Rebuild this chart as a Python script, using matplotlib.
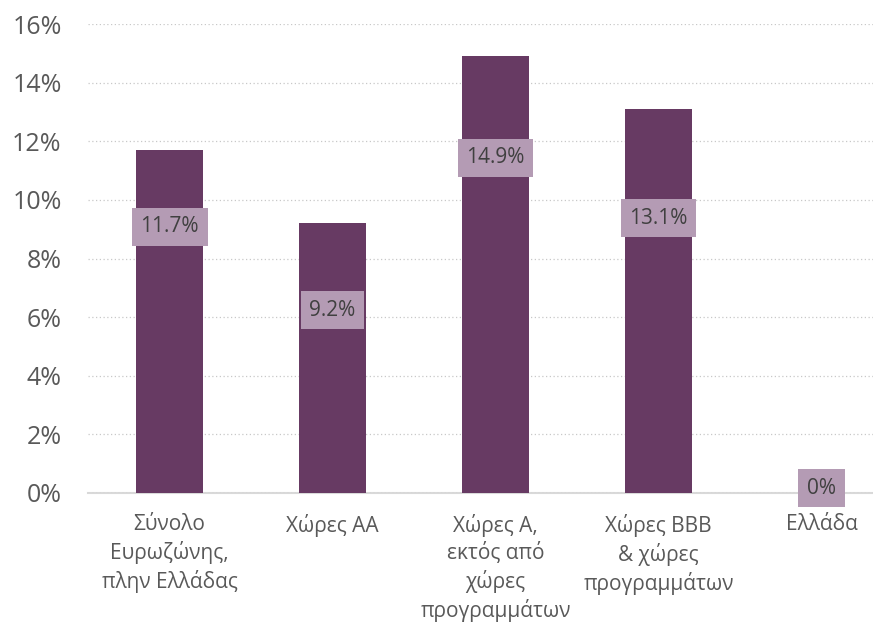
import matplotlib.pyplot as plt
from matplotlib.ticker import PercentFormatter

plt.rcParams['font.family'] = ['Open Sans', 'DejaVu Sans']

# data
categories = ["Σύνολο\nΕυρωζώνης,\nπλην Ελλάδας", "Χώρες ΑΑ",
              "Χώρες Α,\nεκτός από\nχώρες\nπρογραμμάτων",
              "Χώρες ΒΒΒ\n& χώρες\nπρογραμμάτων", "Ελλάδα"]
values = [11.7, 9.2, 14.9, 13.1, 0.0]
value_labels = ["11.7%", "9.2%", "14.9%", "13.1%", "0%"]

# where the value boxes sit (y, in %), as in the original
label_y = [9.08, 6.24, 11.43, 9.38, 0.17]

bar_color = '#673a63'
box_color = '#b49bb4'
text_color = '#595959'

fig = plt.figure(figsize=(8.73, 6.25), dpi=100)
ax = fig.add_axes([88 / 873, 1 - 493 / 625, 815 / 873, 469 / 625])

x = range(len(categories))
ax.bar(x, values, width=0.405, color=bar_color, zorder=2)

for xi, yi, lab in zip(x, label_y, value_labels):
    ax.text(xi, yi, lab, ha='center', va='center', fontsize=15, color='#404040',
            zorder=3, bbox=dict(boxstyle='square,pad=0.42', fc=box_color, ec='none'))

ax.set_xlim(-0.5, len(categories) - 0.5)
ax.set_ylim(0, 16)
ax.set_yticks(range(0, 17, 2))
ax.yaxis.set_major_formatter(PercentFormatter(decimals=0))
ax.set_xticks(list(x))
ax.set_xticklabels(categories, fontsize=15, color=text_color, linespacing=1.33)
ax.tick_params(axis='y', length=0, pad=19, labelsize=18, labelcolor=text_color)
ax.tick_params(axis='x', length=0, pad=15)

ax.grid(axis='y', linestyle=(0, (1, 2)), color='#c8c8c8', linewidth=0.9, zorder=0)
for s in ['top', 'right', 'left']:
    ax.spines[s].set_visible(False)
ax.spines['bottom'].set_color('#d9d9d9')
ax.spines['bottom'].set_linewidth(1.5)
ax.spines['bottom'].set_zorder(1)

fig.savefig('out.png', dpi=100)
